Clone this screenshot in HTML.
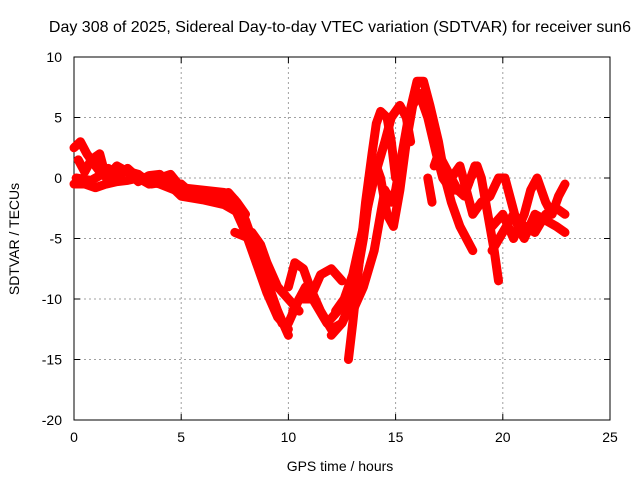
<!DOCTYPE html>
<html><head><meta charset="utf-8"><style>
body{margin:0;background:#fff}
svg text{font-family:"Liberation Sans",sans-serif;font-size:14px;fill:#000}
</style></head><body>
<svg width="640" height="480" xmlns="http://www.w3.org/2000/svg">
<rect width="640" height="480" fill="#fff"/>
<text x="340" y="32" text-anchor="middle" style="font-size:16px">Day 308 of 2025, Sidereal Day-to-day VTEC variation (SDTVAR) for receiver sun6</text>
<g id="grid"></g>
<g id="axes"></g>
<g id="series"></g>
<text x="340" y="471" text-anchor="middle">GPS time / hours</text>
<text transform="translate(19,239) rotate(-90)" text-anchor="middle">SDTVAR / TECUs</text>
</svg>
<script>
const xTicks=[0,5,10,15,20,25];
const yTicks=[10,5,0,-5,-10,-15,-20];
const track1=[[0,2.5],[0.3,3],[0.6,2],[1,1],[1.3,0.3],[1.6,0.8],[2,0],[2.5,0.8],[3,0],[3.5,-0.5],[4,0],[4.5,0.3],[5,-0.8],[6,-1],[7,-1.2],[7.5,-1.8],[8,-3.5],[8.5,-6],[9,-9],[9.5,-11],[10,-13]];
const track2=[[0,-0.5],[0.5,-0.5],[1,-0.8],[1.5,-0.5],[2,-0.3],[2.5,-0.2],[3,0],[4,-0.5],[5,-1.2],[6,-1.3],[7,-1.8],[7.5,-2.5],[8,-4.5],[8.5,-7],[9,-9.5],[9.5,-11.5],[10,-12.5]];
const track2b=[[0.2,1.5],[0.5,0.5],[0.8,1.5],[1.2,2],[1.5,0],[2,1],[2.5,0.5],[3,-0.3],[3.5,0.2],[4,0.3],[4.5,-0.5],[5,-0.5],[5.5,-1.3],[6.5,-1.5],[7.2,-1.2],[7.6,-2],[8,-3]];
const track2c=[[0.1,0],[0.8,-0.2],[1.5,0.5],[2.2,0.7],[3,0.3],[3.6,-0.5],[4.3,-0.3],[5,-1.5],[6,-1.8],[7,-2.2],[7.8,-3],[8.3,-5],[8.8,-7.5],[9.3,-10],[9.7,-12]];
const track3=[[8.3,-4.5],[8.7,-5.5],[9,-7],[9.5,-9],[10,-10],[10.5,-11]];
const track4=[[7.5,-4.5],[8.2,-5]];
const track5=[[10,-9],[10.3,-7],[10.7,-7.5],[11,-9],[11.5,-11],[12,-12.5],[12.5,-12],[13,-10],[13.3,-7]];
const track6=[[10,-12],[10.5,-10],[11,-10],[11.5,-8],[12,-7.5],[12.5,-8.5]];
const track6b=[[10.2,-11],[10.8,-9],[11.3,-10.5],[11.8,-12],[12.3,-11],[12.8,-9.5],[13.2,-8]];
const track7=[[12.8,-15],[13,-12],[13.3,-7],[13.6,-2],[13.9,2],[14.1,4.5],[14.3,5.5],[14.6,5],[14.8,3],[15,0]];
const track8=[[12.2,-11],[12.6,-10],[13,-8],[13.5,-4],[14,0],[14.5,3],[14.8,5],[15.2,6],[15.5,5],[15.7,3]];
const track9=[[13,-11],[13.5,-9],[14,-6],[14.3,-3],[14.5,-1],[14.8,-2],[15,-1],[15.3,2],[15.6,5],[16,8],[16.3,8],[16.6,6],[17,3],[17.3,0],[17.6,-2],[18,-4],[18.3,-5],[18.6,-6]];
const track10=[[12,-13],[12.5,-12],[13,-10],[13.5,-5],[13.8,-1],[14.1,1],[14.3,0],[14.6,-3],[14.9,-4],[15.2,-1],[15.5,3],[15.8,6],[16.1,7],[16.5,5],[16.9,2],[17.2,0],[17.6,-1],[18,-1],[18.4,-0.5],[18.7,1]];
const track11=[[16.8,1],[17,2],[17.3,1],[17.6,0],[17.9,-1],[18.2,-1.5],[18.5,0],[18.8,1],[19,0],[19.3,-3],[19.6,-6],[19.8,-8.5]];
const track12=[[17.6,0],[18,1],[18.3,-1],[18.6,-3],[19,-2],[19.4,-1.5],[19.8,0],[20.1,0],[20.4,-2],[20.7,-4],[21,-5],[21.5,-3],[22,-3.5],[22.5,-4],[22.9,-4.5]];
const track13=[[19.5,-4],[20,-3],[20.5,-5],[21,-3],[21.3,-1],[21.6,0],[22,-2],[22.3,-3],[22.6,-1.5],[22.9,-0.5]];
const track14=[[16.5,0],[16.7,-2]];
const track15=[[19.5,-6],[20,-4.5],[20.5,-3],[21,-4],[21.5,-4.5],[22,-3],[22.5,-2.5],[22.9,-3]];
const tracks=[track1,track2,track2b,track2c,track3,track4,track5,track6,track6b,track7,track8,track9,track10,track11,track12,track13,track14,track15];
const X0=74,X1=610,Y0=57,Y1=420;
const sx=v=>X0+(v-0)/25*(X1-X0);
const sy=v=>Y0+(10-v)/30*(Y1-Y0);
const NS='http://www.w3.org/2000/svg';
function mk(t,a,p){const e=document.createElementNS(NS,t);for(const k in a)e.setAttribute(k,a[k]);p.appendChild(e);return e;}
const grid=document.getElementById('grid'),axes=document.getElementById('axes'),ser=document.getElementById('series');
xTicks.forEach(v=>{
 if(v>0&&v<25){const l=mk('line',{x1:sx(v),x2:sx(v),y1:Y0,y2:Y1,stroke:'#a0a0a0','stroke-dasharray':'2,3'},grid);
 
 }
 const t=mk('text',{x:sx(v),y:Y1+22,'text-anchor':'middle'},axes);t.textContent=v;
 
 
 mk('line',{x1:sx(v),x2:sx(v),y1:Y1,y2:Y1-6,stroke:'#000'},axes);
 mk('line',{x1:sx(v),x2:sx(v),y1:Y0,y2:Y0+6,stroke:'#000'},axes);
});
yTicks.forEach(v=>{
 if(v<10&&v>-20){const l=mk('line',{x1:X0,x2:X1,y1:sy(v),y2:sy(v),stroke:'#a0a0a0','stroke-dasharray':'2,3'},grid);
 
 }
 const t=mk('text',{x:X0-12,y:sy(v)+5,'text-anchor':'end'},axes);t.textContent=v;
 
 
 mk('line',{x1:X0,x2:X0+6,y1:sy(v),y2:sy(v),stroke:'#000'},axes);
 mk('line',{x1:X1,x2:X1-6,y1:sy(v),y2:sy(v),stroke:'#000'},axes);
});
mk('rect',{x:X0,y:Y0,width:X1-X0,height:Y1-Y0,fill:'none',stroke:'#000'},axes);
tracks.forEach(tr=>{
 const p=mk('polyline',{points:tr.map(d=>sx(d[0])+','+sy(d[1])).join(' '),fill:'none',stroke:'#ff0000','stroke-width':9,'stroke-linejoin':'round','stroke-linecap':'round'},ser);
 
 
});
</script>
</body></html>
